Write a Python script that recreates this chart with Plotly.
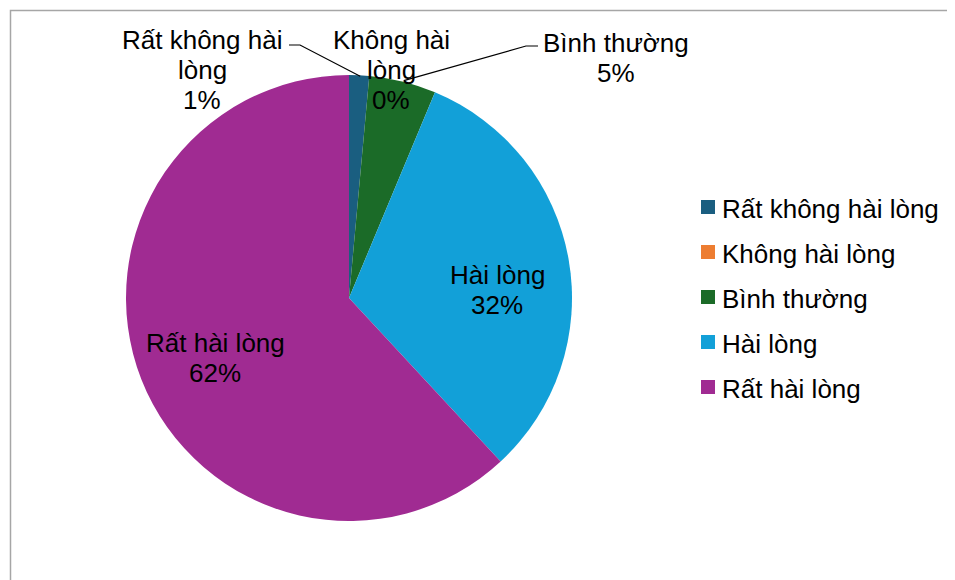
import math
import plotly.graph_objects as go

# ---- data ----
categories = ["Rất không hài lòng", "Không hài lòng", "Bình thường", "Hài lòng", "Rất hài lòng"]
values = [1.45, 0.0, 4.85, 31.8, 61.9]
colors = ["#1A5E80", "#ED7D31", "#1B6B28", "#12A0D8", "#A02B92"]
# how the data labels wrap on the chart
label_text = ["Rất không hài<br>lòng", "Không hài<br>lòng", "Bình thường", "Hài lòng", "Rất hài lòng"]

W, H = 955, 580
OFF = 8  # page body margin
FONT = "Liberation Sans, Arial, sans-serif"
FS = 26
LINE = 30

# pie geometry (page pixels)
cx, cy, r = 349, 298, 223

def px(x):
    return (x - OFF) / W

def py(y):
    return 1 - (y - OFF) / H

fig = go.Figure()
fig.add_trace(go.Pie(
    labels=categories,
    values=values,
    sort=False,
    direction="clockwise",
    rotation=0,
    marker=dict(colors=colors, line=dict(width=0)),
    textinfo="none",
    showlegend=False,
    hoverinfo="label+percent",
    domain=dict(x=[px(cx - r), px(cx + r)], y=[py(cy + r), py(cy - r)]),
))

total = sum(values)
pct = [f"{round(v / total * 100 + 1e-9):.0f}%" for v in values]

# label placements (layout): centre x, centre y of first line
label_pos = [(202, 38), (391, 38), (616, 41), (497, 273), (215, 341)]
annotations = []
for i, (x, y) in enumerate(label_pos):
    lines = label_text[i].split("<br>") + [pct[i]]
    for k, t in enumerate(lines):
        annotations.append(dict(
            x=px(x), y=py(y + 2 + k * LINE), xref="paper", yref="paper",
            text=t, showarrow=False,
            xanchor="center", yanchor="middle", align="center",
            font=dict(family=FONT, size=FS, color="#000000"),
        ))

shapes = []
# leader lines for outside labels, starting at slice middle on the rim
cum = 0
mids = []
for v in values:
    mids.append((cum + v / 2) / total * 2 * math.pi)
    cum += v

def rim(i):
    a = mids[i]
    return cx + r * math.sin(a), cy - r * math.cos(a)

x0, y0 = rim(0)
path0 = f"M {px(289)} {py(45)} L {px(300)} {py(45)} L {px(x0 + 1)} {py(y0 + 1)}"
x2, y2 = rim(2)
path2 = f"M {px(x2 + 1)} {py(y2 - 1)} L {px(526)} {py(46)} L {px(538)} {py(46)}"
for p in (path0, path2):
    shapes.append(dict(type="path", path=p, xref="paper", yref="paper",
                       line=dict(color="#000000", width=1.2)))

# chart frame
shapes.append(dict(type="rect", xref="paper", yref="paper",
                   x0=px(10.5), x1=1.02, y0=-0.03, y1=py(10.5),
                   line=dict(color="#A6A6A6", width=1.5), fillcolor="rgba(0,0,0,0)"))

# legend (manual)
leg_x, leg_y0, leg_dy = 701, 207, 45
for i, name in enumerate(categories):
    yc = leg_y0 + i * leg_dy
    shapes.append(dict(type="rect", xref="paper", yref="paper",
                       x0=px(leg_x), x1=px(leg_x + 14), y0=py(yc + 7), y1=py(yc - 7),
                       line=dict(width=0), fillcolor=colors[i]))
    annotations.append(dict(
        x=px(leg_x + 19), y=py(yc + 2), xref="paper", yref="paper",
        text=name, showarrow=False, xanchor="left", yanchor="middle",
        font=dict(family=FONT, size=FS, color="#000000"),
    ))

fig.update_layout(
    width=W, height=H,
    margin=dict(l=0, r=0, t=0, b=0),
    paper_bgcolor="white", plot_bgcolor="white",
    showlegend=False,
    annotations=annotations,
    shapes=shapes,
    font=dict(family=FONT, size=FS, color="#000000"),
)

fig.write_html("out.html")
